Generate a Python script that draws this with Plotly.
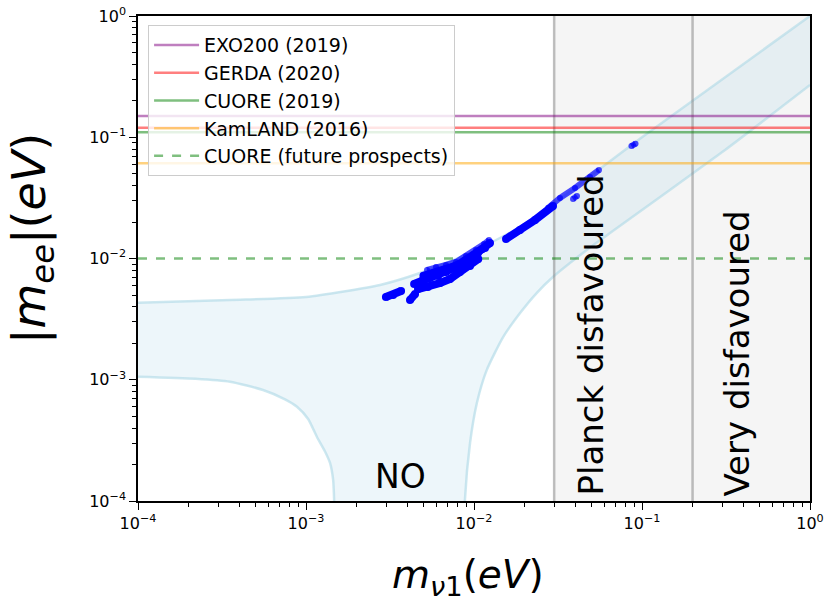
import plotly.graph_objects as go

# ---------------- data ----------------
# Experimental upper limits on |m_ee| (eV)
limit_names = ["EXO200 (2019)", "GERDA (2020)", "CUORE (2019)", "KamLAND (2016)",
               "CUORE (future prospects)"]
limit_values = [0.150, 0.120, 0.110, 0.061, 0.010]
limit_colors = ["rgba(128,0,128,0.5)", "rgba(255,0,0,0.5)", "rgba(0,128,0,0.5)",
                "rgba(255,165,0,0.5)", "rgba(0,128,0,0.5)"]
limit_dash = ["solid", "solid", "solid", "solid", "dash"]

# Cosmological bounds on m_nu1 (eV)
planck_bound = 0.03
very_bound = 0.2
m1_range = [1e-4, 1.0]
mee_range = [1e-4, 1.0]

# axis ticks
tick_values = [1e-4, 1e-3, 1e-2, 1e-1, 1.0]
tick_labels = ["10<sup>−4</sup>", "10<sup>−3</sup>", "10<sup>−2</sup>",
               "10<sup>−1</sup>", "10<sup>0</sup>"]
minor_digits = [2, 3, 4, 5, 6, 7, 8, 9]

# Normal-ordering allowed band: upper edge
no_upper_m1 = [1e-4, 3.53e-4, 1e-3, 2.76e-3, 4.77e-3, 9.47e-3, 1.88e-2, 2.95e-2,
               5.86e-2, 0.1, 1.0]
no_upper_mee = [4.32e-3, 4.55e-3, 4.81e-3, 6.05e-3, 7.59e-3, 1.11e-2, 1.82e-2, 2.80e-2,
                5.75e-2, 0.1, 1.0]
# lower edge, small-m1 branch
no_lowL_m1 = [1e-4, 2.2e-4, 3.53e-4, 5.55e-4, 7.5e-4, 8.84e-4, 1.03e-3, 1.16e-3,
              1.30e-3, 1.39e-3, 1.45e-3, 1.47e-3, 1.50e-3]
no_lowL_mee = [1.06e-3, 1.02e-3, 9.64e-4, 8.23e-4, 6.9e-4, 5.99e-4, 4.75e-4, 3.39e-4,
               2.55e-4, 2.06e-4, 1.5e-4, 1.02e-4, 1e-5]
# lower edge, large-m1 branch
no_lowR_m1 = [8.6e-3, 8.84e-3, 9.47e-3, 1.04e-2, 1.19e-2, 1.49e-2, 1.88e-2, 2.36e-2,
              2.95e-2, 4.69e-2, 6.45e-2, 0.312, 1.0]
no_lowR_mee = [1e-5, 1.04e-4, 3.01e-4, 6.43e-4, 1.20e-3, 2.25e-3, 3.55e-3, 5.19e-3,
               7.04e-3, 1.175e-2, 1.62e-2, 7.85e-2, 0.27]

# Model scan points (dense clusters, traced along their extent)
scan_m1 = [2.99e-3, 3.30e-3, 3.68e-3, None,
           4.16e-3, 4.46e-3, None,
           4.40e-3, 4.90e-3, 5.47e-3, 6.11e-3, 6.81e-3, 7.60e-3, 8.48e-3, 9.47e-3,
           1.056e-2, 1.163e-2, 1.245e-2, None,
           4.64e-3, 5.32e-3, 6.28e-3, 7.20e-3, 8.25e-3, 9.47e-3, 1.06e-2, None,
           5.0e-3, 5.8e-3, 6.6e-3, 7.6e-3, 8.7e-3, 1.0e-2, 1.12e-2, None,
           1.551e-2, 1.878e-2, 2.307e-2, 2.953e-2]
scan_mee = [4.81e-3, 5.00e-3, 5.40e-3, None,
            4.55e-3, 5.10e-3, None,
            6.16e-3, 6.52e-3, 6.91e-3, 7.17e-3, 7.74e-3, 8.35e-3, 9.01e-3, 1.009e-2,
            1.110e-2, 1.221e-2, 1.342e-2, None,
            5.60e-3, 5.82e-3, 6.28e-3, 6.78e-3, 7.74e-3, 8.67e-3, 9.9e-3, None,
            7.2e-3, 7.6e-3, 8.0e-3, 8.6e-3, 9.5e-3, 1.06e-2, 1.20e-2, None,
            1.448e-2, 1.718e-2, 2.077e-2, 2.710e-2]
# sparser (lighter) scan points
scan2_m1 = [5.25e-3, 5.94e-3, 6.81e-3, 7.81e-3, 8.96e-3, 1.028e-2, 1.147e-2, 1.228e-2, None,
            2.757e-2, 3.250e-2, 3.992e-2, 4.904e-2, 5.546e-2, None,
            3.885e-2, 4.103e-2, None,
            8.65e-2, 9.15e-2]
scan2_mee = [8.04e-3, 8.51e-3, 8.84e-3, 9.36e-3, 1.049e-2, 1.175e-2, 1.317e-2, 1.421e-2, None,
             2.609e-2, 3.155e-2, 3.814e-2, 4.701e-2, 5.369e-2, None,
             3.095e-2, 3.278e-2, None,
             8.45e-2, 8.85e-2]

# ---------------- figure ----------------
FONT = "DejaVu Sans"
fig = go.Figure()

# disfavoured region shading
fig.add_trace(go.Scatter(
    x=[planck_bound, m1_range[1], m1_range[1], planck_bound, planck_bound],
    y=[mee_range[0], mee_range[0], mee_range[1], mee_range[1], mee_range[0]],
    fill="toself", fillcolor="rgba(211,211,211,0.22)", line=dict(width=0),
    mode="lines", showlegend=False, hoverinfo="skip"))

# NO band fill
band_x = no_upper_m1 + no_lowR_m1[::-1] + no_lowL_m1[::-1]
band_y = no_upper_mee + no_lowR_mee[::-1] + no_lowL_mee[::-1]
fig.add_trace(go.Scatter(x=band_x, y=band_y, fill="toself",
                         fillcolor="rgba(173,216,230,0.22)", line=dict(width=0),
                         mode="lines", showlegend=False, hoverinfo="skip"))
for bx, by in [(no_upper_m1, no_upper_mee), (no_lowL_m1, no_lowL_mee),
               (no_lowR_m1, no_lowR_mee)]:
    fig.add_trace(go.Scatter(x=bx, y=by, mode="lines",
                             line=dict(color="rgba(173,216,230,0.6)", width=2.5,
                                       shape="spline", smoothing=0.6),
                             showlegend=False, hoverinfo="skip"))

# vertical cosmology bounds
for b in [planck_bound, very_bound]:
    fig.add_trace(go.Scatter(x=[b, b], y=mee_range, mode="lines",
                             line=dict(color="rgba(128,128,128,0.5)", width=2.5),
                             showlegend=False, hoverinfo="skip"))

# experimental limits
for name, val, col, dash in zip(limit_names, limit_values, limit_colors, limit_dash):
    fig.add_trace(go.Scatter(x=m1_range, y=[val, val], mode="lines", name=name,
                             line=dict(color=col, width=2.5, dash=dash)))

# scan points
fig.add_trace(go.Scatter(x=scan2_m1, y=scan2_mee, mode="lines+markers",
                         line=dict(color="rgba(0,0,255,0.7)", width=6),
                         marker=dict(color="rgba(0,0,255,0.7)", size=6),
                         showlegend=False, hoverinfo="skip"))
fig.add_trace(go.Scatter(x=scan_m1, y=scan_mee, mode="lines+markers",
                         line=dict(color="rgb(0,0,255)", width=8),
                         marker=dict(color="rgb(0,0,255)", size=8),
                         showlegend=False, hoverinfo="skip"))

# text labels
fig.add_annotation(text="NO", x=0.39, y=0.0515, xref="paper", yref="paper",
                   xanchor="center", yanchor="middle", showarrow=False,
                   font=dict(family=FONT, size=33, color="black"))
fig.add_annotation(text="Planck disfavoured", x=0.674, y=0.343, xref="paper", yref="paper",
                   xanchor="center", yanchor="middle", textangle=-90, showarrow=False,
                   font=dict(family=FONT, size=34, color="black"))
fig.add_annotation(text="Very disfavoured", x=0.892, y=0.305, xref="paper", yref="paper",
                   xanchor="center", yanchor="middle", textangle=-90, showarrow=False,
                   font=dict(family=FONT, size=34, color="black"))
# axis titles
fig.add_annotation(text="<i>m</i><sub><i>ν</i>1</sub>(<i>eV</i>)", x=0.491, y=-0.157,
                   xref="paper", yref="paper", xanchor="center", yanchor="middle",
                   showarrow=False, font=dict(family=FONT, size=39, color="black"))
fig.add_annotation(text="|<i>m</i><sub><i>ee</i></sub>|(<i>eV</i>)", x=-0.158, y=0.542,
                   xref="paper", yref="paper", xanchor="center", yanchor="middle",
                   textangle=-90, showarrow=False,
                   font=dict(family=FONT, size=46, color="black"))

minor_vals = [d * t for t in tick_values[:-1] for d in minor_digits]
axis_common = dict(type="log", tickmode="array", tickvals=tick_values, ticktext=tick_labels,
                   automargin=False,
                   showgrid=False, zeroline=False, showline=True, linecolor="black",
                   linewidth=1.5, mirror=True, ticks="outside", ticklen=7, tickwidth=1.3,
                   tickcolor="black", tickfont=dict(family=FONT, size=16, color="black"),
                   minor=dict(ticks="outside", ticklen=4, tickwidth=1, tickcolor="black",
                              tickmode="array", tickvals=minor_vals, showgrid=False))

fig.update_layout(
    width=829, height=601,
    margin=dict(l=138, r=19, t=16, b=100),
    plot_bgcolor="white", paper_bgcolor="white",
    font=dict(family=FONT, color="black"),
    xaxis=dict(range=[-4, 0], **axis_common),
    yaxis=dict(range=[-4, 0], **axis_common),
    legend=dict(x=0.015, y=0.981, xanchor="left", yanchor="top", itemwidth=45,
                bgcolor="rgba(255,255,255,0.8)", bordercolor="#cccccc", borderwidth=1,
                font=dict(family=FONT, size=19, color="black")),
    showlegend=True,
)

fig.write_html("out.html")
